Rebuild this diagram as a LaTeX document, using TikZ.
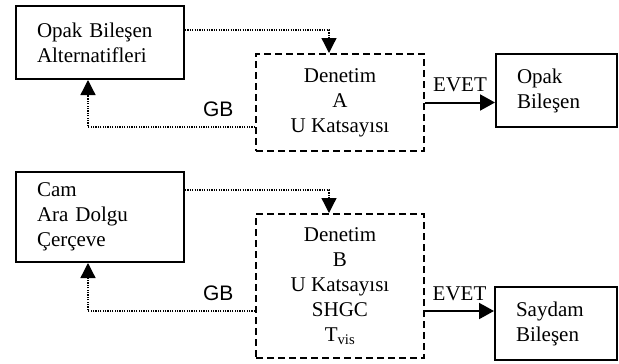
\documentclass[tikz,border=0pt]{standalone}
\usepackage{fontspec}
\setmainfont{Liberation Serif}
\newfontfamily\gbfont{Liberation Sans}
\usetikzlibrary{arrows.meta}
\tikzstyle{altbox} = [rectangle, draw=black, line width=2pt, align=left, inner xsep=21pt, inner ysep=0pt]
\tikzstyle{checkbox} = [rectangle, draw=black, line width=2pt, dash pattern=on 7pt off 4pt, align=center, minimum width=168pt]
\tikzstyle{loop} = [line width=1.3pt, dash pattern=on 1.2pt off 1.2pt, -{Triangle[length=15pt,width=15pt]}]
\tikzstyle{arrow} = [line width=2pt, -{Triangle[length=15pt,width=16pt]}]

\begin{document}
\begin{tikzpicture}[x=1pt, y=-1pt, font=\fontsize{21}{25}\selectfont]
\useasboundingbox (0,0) rectangle (619,364);
% upper part: opaque
\node (n1) [altbox, text width=126pt, minimum height=73pt] at (100,42.5) {Opak Bileşen\\Alternatifleri};
\node (n2) [checkbox, minimum height=97pt] at (340,102.5) {Denetim\\A\\U Katsayısı};
\node (n3) [altbox, text width=79pt, minimum height=73pt] at (556.5,90.5) {Opak\\Bileşen};

\draw [loop] ([yshift=12.5pt]n1.east) -| ([xshift=-11pt]n2.north);
\draw [loop] ([yshift=-24.5pt]n2.west) -| node[pos=0.11, above=6pt, font=\fontsize{21}{25}\gbfont] {GB} ([xshift=-12pt]n1.south);
\draw [arrow] (n2.east) -- node[above=6pt] {EVET} (n2.east -| n3.west);

% lower part: transparent
\node (n4) [altbox, text width=126pt, minimum height=90pt] at (100,217) {Cam\\Ara Dolgu\\Çerçeve};
\node (n5) [checkbox, minimum height=144pt] at (340,286) {Denetim\\B\\U Katsayısı\\SHGC\\T\textsubscript{vis}};
\node (n6) [altbox, text width=80pt, minimum height=73pt] at (556,323.5) {Saydam\\Bileşen};

\draw [loop] ([yshift=27pt]n4.east) -| ([xshift=-11pt]n5.north);
\draw [loop] ([yshift=-25pt]n5.west) -| node[pos=0.11, above=6pt, font=\fontsize{21}{25}\gbfont] {GB} ([xshift=-12pt]n4.south);
\draw [arrow] ([yshift=-25pt]n5.east) -- node[above=6pt] {EVET} ([yshift=-25pt]n5.east -| n6.west);

\end{tikzpicture}
\end{document}
